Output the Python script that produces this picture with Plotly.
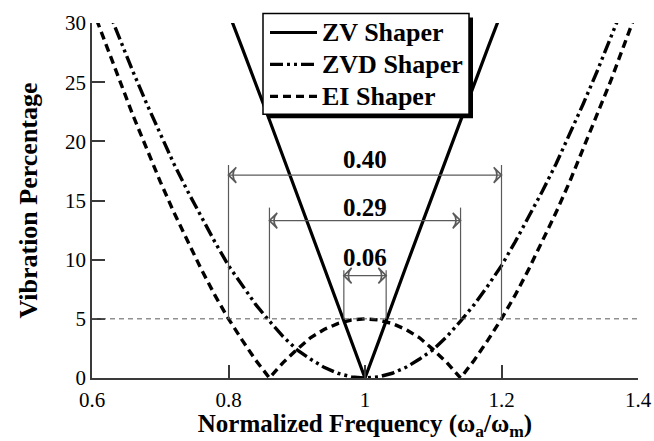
import plotly.graph_objects as go

# ---------------- data ----------------
freq = [0.60, 0.62, 0.64, 0.66, 0.68, 0.70, 0.72, 0.74, 0.76, 0.78,
        0.80, 0.82, 0.84, 0.86, 0.88, 0.90, 0.92, 0.94, 0.96, 0.98,
        1.00, 1.02, 1.04, 1.06, 1.08, 1.10, 1.12, 1.14, 1.16, 1.18,
        1.20, 1.22, 1.24, 1.26, 1.28, 1.30, 1.32, 1.34, 1.36, 1.38, 1.40]

zv_shaper = [58.8, 56.2, 53.6, 50.9, 48.2, 45.4, 42.6, 39.7, 36.8, 33.9,
             30.9, 27.9, 24.9, 21.8, 18.7, 15.6, 12.5, 9.4, 6.3, 3.1,
             0.0, 3.1, 6.3, 9.4, 12.5, 15.6, 18.7, 21.8, 24.9, 27.9,
             30.9, 33.9, 36.8, 39.7, 42.6, 45.4, 48.2, 50.9, 53.6, 56.2, 58.8]

zvd_shaper = [34.5, 31.6, 28.7, 25.9, 23.2, 20.6, 18.1, 15.8, 13.6, 11.5,
              9.5, 7.8, 6.2, 4.8, 3.5, 2.4, 1.6, 0.9, 0.4, 0.1,
              0.0, 0.1, 0.4, 0.9, 1.6, 2.4, 3.5, 4.8, 6.2, 7.8,
              9.5, 11.5, 13.6, 15.8, 18.1, 20.6, 23.2, 25.9, 28.7, 31.6, 34.5]

ei_shaper = [31.3, 28.2, 25.1, 22.2, 19.4, 16.6, 14.0, 11.6, 9.2, 7.0,
             5.0, 3.2, 1.5, 0.0, 1.3, 2.4, 3.4, 4.1, 4.6, 4.9,
             5.0, 4.9, 4.6, 4.1, 3.4, 2.4, 1.3, 0.0, 1.5, 3.2,
             5.0, 7.0, 9.2, 11.6, 14.0, 16.6, 19.4, 22.2, 25.1, 28.2, 31.3]

series_names = ["ZV Shaper", "ZVD Shaper", "EI Shaper"]

tolerance = 5.0  # vibration tolerance level (%)

# insensitivity bands at 5 %: left / right bounds, bracket heights, labels
band_left = [0.80, 0.86, 0.969]
band_right = [1.20, 1.14, 1.031]
band_top = [18.0, 14.4, 9.1]
band_arrow_y = [17.15, 13.3, 8.65]
band_label = ["0.40", "0.29", "0.06"]
band_label_y = [18.5, 14.4, 10.2]
band_label_x = [1.0, 1.0, 1.0]

x_ticks = [0.6, 0.8, 1.0, 1.2, 1.4]
x_tick_text = ["0.6", "0.8", "1", "1.2", "1.4"]
y_ticks = [0, 5, 10, 15, 20, 25, 30]

# ---------------- figure ----------------
SERIF = "Liberation Serif"
AX = "#3a3a3a"
GUIDE = "#5a5a5a"

fig = go.Figure()

styles = [
    dict(color="black", width=3.2, dash="solid"),
    dict(color="black", width=3.4, dash="13px,4px,3px,4px,3px,4px"),
    dict(color="black", width=3.4, dash="8px,5px"),
]
for name, ys, st in zip(series_names, [zv_shaper, zvd_shaper, ei_shaper], styles):
    fig.add_trace(go.Scatter(x=freq, y=ys, mode="lines", name=name, line=st,
                             showlegend=False, hoverinfo="x+y+name"))

# double-headed dimension arrows between the 5 % crossings
for xl, xr, ya in zip(band_left, band_right, band_arrow_y):
    fig.add_trace(go.Scatter(
        x=[xl, xr], y=[ya, ya], mode="lines+markers", showlegend=False,
        hoverinfo="skip", line=dict(color=GUIDE, width=1.2),
        marker=dict(symbol="arrow-wide-open", size=11, angle=[-90, 90],
                    color=GUIDE, line=dict(width=1.6, color=GUIDE))))

shapes = []
shapes.append(dict(type="line", xref="x", yref="y", x0=freq[0], x1=freq[-1],
                   y0=tolerance, y1=tolerance,
                   line=dict(color=GUIDE, width=1, dash="5px,4px"), layer="above"))
for xl, xr, yt in zip(band_left, band_right, band_top):
    for xv in (xl, xr):
        shapes.append(dict(type="line", xref="x", yref="y", x0=xv, x1=xv,
                           y0=tolerance, y1=yt,
                           line=dict(color=GUIDE, width=1.2), layer="above"))

annotations = []
for lab, lx, ly in zip(band_label, band_label_x, band_label_y):
    annotations.append(dict(x=lx, y=ly, xref="x", yref="y", text=lab,
                            showarrow=False,
                            font=dict(family=SERIF, size=25, color="black",
                                      weight="bold")))

plot_l, plot_r, plot_t, plot_b = 92, 638, 22.5, 378.3
pw, ph = plot_r - plot_l, plot_b - plot_t


def px_to_paper(px, py):
    return (px - plot_l) / pw, (plot_b - py) / ph


# ---- framed legend with drop shadow (built from the series styles) ----
box_l, box_t, box_r, box_b = 263, 13, 469, 114
shadow = 4
sx0, sy1 = px_to_paper(box_l + shadow, box_t + shadow)
sx1, sy0 = px_to_paper(box_r + shadow, box_b + shadow)
shapes.append(dict(type="rect", xref="paper", yref="paper", x0=sx0, x1=sx1,
                   y0=sy0, y1=sy1, fillcolor="black",
                   line=dict(color="black", width=0), layer="above"))
bx0, by1 = px_to_paper(box_l, box_t)
bx1, by0 = px_to_paper(box_r, box_b)
shapes.append(dict(type="rect", xref="paper", yref="paper", x0=bx0, x1=bx1,
                   y0=by0, y1=by1, fillcolor="white",
                   line=dict(color="black", width=1.5), layer="above"))
row_y = [32, 64, 96]
for name, st, ry in zip(series_names, styles, row_y):
    l0, yy = px_to_paper(270, ry)
    l1, _ = px_to_paper(317, ry)
    shapes.append(dict(type="line", xref="paper", yref="paper", x0=l0, x1=l1,
                       y0=yy, y1=yy, line=st, layer="above"))
    tx, ty = px_to_paper(320, ry)
    annotations.append(dict(x=tx, y=ty, xref="paper", yref="paper", text=name,
                            showarrow=False, xanchor="left", yanchor="middle",
                            font=dict(family=SERIF, size=26, color="black",
                                      weight="bold")))

fig.update_layout(
    width=654, height=441,
    margin=dict(l=plot_l, r=654 - plot_r, t=plot_t, b=441 - plot_b, autoexpand=False),
    paper_bgcolor="white", plot_bgcolor="white",
    font=dict(family=SERIF, color="black"),
    showlegend=False,
    shapes=shapes,
    annotations=annotations,
    xaxis=dict(range=[0.6, 1.4], tickvals=x_ticks, ticktext=x_tick_text,
               showgrid=False, zeroline=False, showline=True, linecolor=AX,
               linewidth=1.5, ticks="inside", ticklen=13, tickwidth=1.5,
               tickcolor=AX, tickfont=dict(family=SERIF, size=21, color="black"),
               ticklabelstandoff=2,
               title=dict(text="Normalized Frequency (ω<sub>a</sub>/ω<sub>m</sub>)",
                          font=dict(family=SERIF, size=25, color="black", weight="bold"),
                          standoff=4)),
    yaxis=dict(range=[0, 30], tickvals=y_ticks,
               showgrid=False, zeroline=False, showline=True, linecolor=AX,
               linewidth=1.5, ticks="inside", ticklen=13, tickwidth=1.5,
               tickcolor=AX, tickfont=dict(family=SERIF, size=21, color="black"),
               title=dict(text="Vibration Percentage",
                          font=dict(family=SERIF, size=26, color="black", weight="bold"),
                          standoff=20)),
)

fig.write_html("out.html")
